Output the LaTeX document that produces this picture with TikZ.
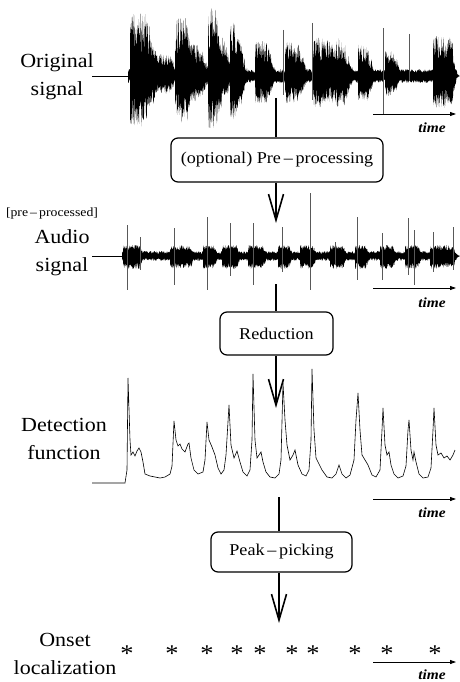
\documentclass[tikz,border=0pt]{standalone}
\usepackage{fontspec}
\setmainfont{Liberation Serif}[FakeStretch=1.1]
\usetikzlibrary{arrows.meta}

\tikzset{
  spike/.style={line width=0.6pt, black!65},
  proc/.style={draw, line width=1.2pt, rounded corners=7pt, font=\fontsize{16.5}{18}\selectfont, inner sep=0pt},
  lbl/.style={align=center, font=\fontsize{20}{28}\selectfont, inner sep=0pt},
  timeax/.style={line width=0.8pt, -{Triangle[length=6pt,width=4pt]}},
  timelbl/.style={font=\fontsize{14}{16}\selectfont\bfseries\itshape, inner sep=0pt},
  flow/.style={line width=1.1pt},
  flowtip/.style={flow, -{Straight Barb[length=26pt,width=15pt,line width=1.6pt]}}
}

\begin{document}
\begin{tikzpicture}[x=1pt,y=1pt,yscale=-1]
\useasboundingbox (0,0) rectangle (459,682);
\pgfmathsetseed{7}

% labels on the left
\node[lbl] (lorig) at (57,77) {Original\\signal};
\node[inner sep=0pt, font=\fontsize{12.5}{14}\selectfont] (lpre) at (52,213) {[pre\,–\,processed]};
\node[lbl] (laud) at (62,253) {Audio\\signal};
\node[lbl] (ldet) at (64,439) {Detection\\function};
\node[lbl] (lons) at (65,654) {Onset\\localization};

% original signal
\draw[line width=0.8pt] (92,76) -- (128,76);
\fill plot[domain=128:453, samples=650] (\x,{76-3-4*rnd}) -- plot[domain=453:128, samples=650] (\x,{76+3+4*rnd}) -- cycle;
\foreach \ctr/\amp/\pl/\dec [evaluate=\dec as \ns using int(3*(\pl+2.5*\dec))] in {130/63/14/12, 150/22/18/8,
    175/61/10/9, 185/32/12/10, 208/68/6/8, 216/40/6/8, 230/54/6/8, 255/36/10/8, 285/34/12/8,
    313/40/8/8, 322/36/8/8, 335/38/8/8, 358/34/3/5, 363/31/4/6, 385/26/8/6, 433/40/18/4}
  \fill plot[domain=\ctr:\ctr+\pl+2.5*\dec, samples=\ns] (\x,{76-\amp*exp(-pow(max(\x-\ctr-\pl,0)/\dec,2))*(0.35+0.65*rnd)})
     -- plot[domain=\ctr+\pl+2.5*\dec:\ctr, samples=\ns] (\x,{76+0.8*\amp*exp(-pow(max(\x-\ctr-\pl,0)/\dec,2))*(0.35+0.65*rnd)}) -- cycle;
\foreach \sx/\top/\bot in {283/30/95, 312/23/100, 383/28/115, 409/34/80}
  \draw[spike] (\sx,\top) -- (\sx,\bot);

% pre-processed audio signal
\draw[line width=0.8pt] (92,256) -- (122,256);
\fill plot[domain=122:454, samples=650] (\x,{256-2-3*rnd}) -- plot[domain=454:122, samples=650] (\x,{256+2+3*rnd}) -- cycle;
\foreach \ctr/\pl in {123/16, 170/20, 203/10, 222/14, 248/14, 278/10, 300/12, 330/12, 355/10, 380/12, 405/12, 430/22}
  \fill plot[domain=\ctr:\ctr+\pl+8, samples=60] (\x,{256-11*exp(-pow(max(\x-\ctr-\pl,0)/4,2))*(0.5+0.5*rnd)})
     -- plot[domain=\ctr+\pl+8:\ctr, samples=60] (\x,{256+13*exp(-pow(max(\x-\ctr-\pl,0)/4,2))*(0.5+0.5*rnd)}) -- cycle;
\foreach \sx/\top/\bot in {127/225/290, 140/237/270, 174/228/285, 207/217/290, 230/223/276,
    253/223/285, 282/227/272, 310/193/290, 335/242/265, 357/217/280, 382/233/280, 408/218/275,
    414/230/285, 433/232/272, 453/227/270}
  \draw[spike] (\sx,\top) -- (\sx,\bot);

% detection function
\draw[line width=0.6pt] (92,483) -- (125,483) -- (127,470) -- (128,378) -- (130,440) -- (131,455) -- (133,452)
  -- (135,456) -- (137,451) -- (139,448) -- (141,452) -- (143,462) -- (145,474) -- (150,476) -- (155,477)
  -- (160,478) -- (165,477) -- (170,474) -- (172,466) -- (174,421) -- (176,440) -- (178,446) -- (180,444)
  -- (182,449) -- (185,452) -- (188,444) -- (189,443) -- (191,458) -- (194,470) -- (198,474) -- (203,472)
  -- (205,460) -- (207,422) -- (209,440) -- (212,447) -- (215,455) -- (218,468) -- (221,474) -- (224,470)
  -- (226,455) -- (229,405) -- (231,445) -- (234,458) -- (237,451) -- (240,462) -- (243,472) -- (247,476)
  -- (250,470) -- (252,440) -- (253,374) -- (255,440) -- (257,458) -- (259,455) -- (261,452) -- (263,462)
  -- (266,472) -- (270,477) -- (275,478) -- (279,474) -- (281,460) -- (283,383) -- (285,420) -- (287,445)
  -- (290,460) -- (293,455) -- (295,450) -- (298,465) -- (302,474) -- (306,476) -- (309,470) -- (311,440)
  -- (312,369) -- (314,430) -- (316,458) -- (318,462) -- (322,470) -- (327,477) -- (332,478) -- (336,474)
  -- (339,465) -- (342,474) -- (346,478) -- (350,475) -- (354,460) -- (356,420) -- (358,393) -- (360,430)
  -- (362,455) -- (365,460) -- (368,465) -- (372,475) -- (376,477) -- (380,470) -- (382,430) -- (383,408)
  -- (385,445) -- (387,455) -- (389,452) -- (391,465) -- (394,474) -- (398,478) -- (403,476) -- (406,466)
  -- (408,430) -- (409,420) -- (411,450) -- (413,460) -- (414,452) -- (416,462) -- (419,474) -- (423,478)
  -- (428,477) -- (431,468) -- (433,430) -- (434,408) -- (436,445) -- (438,455) -- (441,453) -- (444,458)
  -- (447,456) -- (450,460) -- (453,455) -- (455,450);

% onsets
\foreach \ox in {127,172,207,237,260,292,313,355,387,435}
  \node[inner sep=0pt, font=\fontsize{24}{24}\selectfont] (on\ox) at (\ox,654) {*};

% time axes
\foreach \ty/\ly/\n in {114/128/1, 288/303/2, 499/513/3, 662/675/4} {
  \draw[timeax] (373,\ty) -- (456,\ty);
  \node[timelbl] (t\n) at (432,\ly) {time};
}

% processing steps
\node[proc, minimum width=212pt, minimum height=44pt] (pre) at (277,160) {(optional) Pre\,–\,processing};
\node[proc, minimum width=113pt, minimum height=43pt] (red) at (276.5,333.5) {Reduction};
\node[proc, minimum width=141pt, minimum height=40pt] (pk) at (281.5,552) {Peak\,–\,picking};

\coordinate (s1) at (276,98);
\coordinate (e1) at (276,223);
\coordinate (s2) at (276,284);
\coordinate (e2) at (276,408);
\coordinate (s3) at (279,497);
\coordinate (e3) at (279,623);

\draw[flow] (s1) -- (s1 |- pre.north);
\draw[flowtip] (s1 |- pre.south) -- (e1);
\draw[flow] (s2) -- (s2 |- red.north);
\draw[flowtip] (s2 |- red.south) -- (e2);
\draw[flow] (s3) -- (s3 |- pk.north);
\draw[flowtip] (s3 |- pk.south) -- (e3);
\end{tikzpicture}
\end{document}
